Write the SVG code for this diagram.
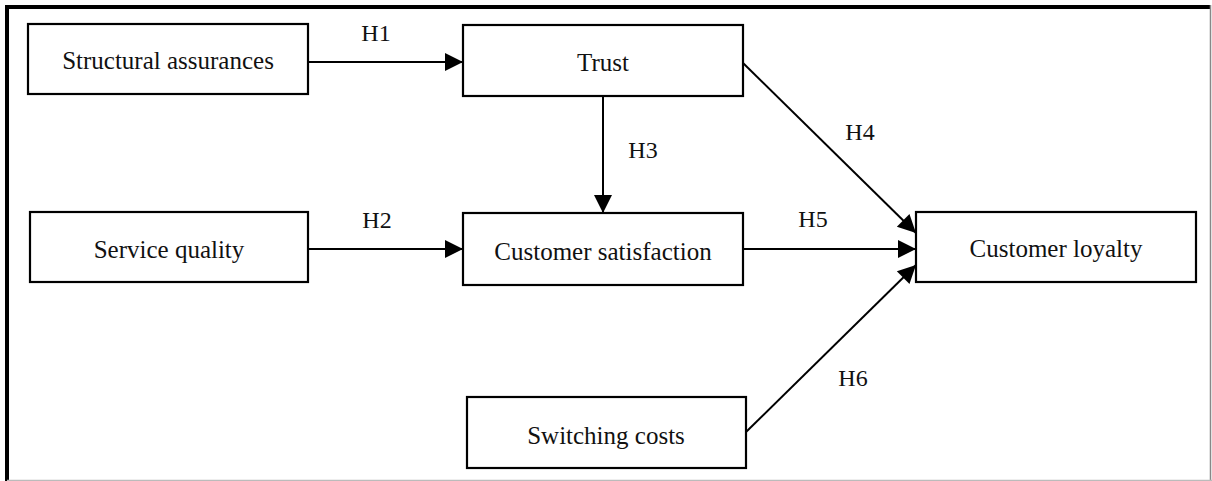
<svg xmlns="http://www.w3.org/2000/svg" width="1212" height="481" viewBox="0 0 1212 481">
<style>
.box{fill:#fff;stroke:#000;stroke-width:2.2}
.lbl{font-family:"Liberation Serif","Times New Roman",serif;font-size:25px;fill:#111;text-anchor:middle}
.h{font-family:"Liberation Serif","Times New Roman",serif;font-size:24px;fill:#111;text-anchor:middle}
.edge{stroke:#000;stroke-width:2;fill:none;marker-end:url(#arr)}
</style>
<defs>
<marker id="arr" markerUnits="userSpaceOnUse" markerWidth="20" markerHeight="20" viewBox="0 0 20 20" refX="19" refY="10" orient="auto">
<path d="M1,1 L19,10 L1,19 Z" fill="#000"/>
</marker>
</defs>
<rect x="0" y="0" width="1212" height="481" fill="#fff"/>
<g id="frame">
<line x1="7" y1="7" x2="1211" y2="7" stroke="#000" stroke-width="4"/>
<line x1="7" y1="5" x2="7" y2="481" stroke="#000" stroke-width="4"/>
<line x1="1210.5" y1="5" x2="1210.5" y2="481" stroke="#888" stroke-width="1.5"/>
<line x1="7" y1="480.5" x2="1212" y2="480.5" stroke="#bbb" stroke-width="1.5"/>
</g>
<g id="connectors">
<line class="edge" x1="308" y1="62" x2="463" y2="62"/>
<line class="edge" x1="308" y1="249" x2="463" y2="249"/>
<line class="edge" x1="603" y1="96" x2="603" y2="213"/>
<line class="edge" x1="743" y1="63" x2="916" y2="233"/>
<line class="edge" x1="743" y1="249" x2="916" y2="249"/>
<line class="edge" x1="746" y1="432" x2="916" y2="265"/>
<text class="h" x="376" y="41">H1</text>
<text class="h" x="377" y="228">H2</text>
<text class="h" x="643" y="158">H3</text>
<text class="h" x="860" y="140">H4</text>
<text class="h" x="813" y="227">H5</text>
<text class="h" x="853" y="386">H6</text>
</g>
<g id="structural-assurances">
<rect class="box" x="28" y="24" width="280" height="70"/>
<text class="lbl" x="168" y="69">Structural assurances</text>
</g>
<g id="trust">
<rect class="box" x="463" y="25" width="280" height="71"/>
<text class="lbl" x="603" y="71">Trust</text>
</g>
<g id="service-quality">
<rect class="box" x="30" y="212" width="278" height="70"/>
<text class="lbl" x="169" y="258">Service quality</text>
</g>
<g id="customer-satisfaction">
<rect class="box" x="463" y="213" width="280" height="72"/>
<text class="lbl" x="603" y="260">Customer satisfaction</text>
</g>
<g id="customer-loyalty">
<rect class="box" x="916" y="212" width="280" height="70"/>
<text class="lbl" x="1056" y="257">Customer loyalty</text>
</g>
<g id="switching-costs">
<rect class="box" x="467" y="397" width="279" height="71"/>
<text class="lbl" x="606" y="444">Switching costs</text>
</g>
</svg>
